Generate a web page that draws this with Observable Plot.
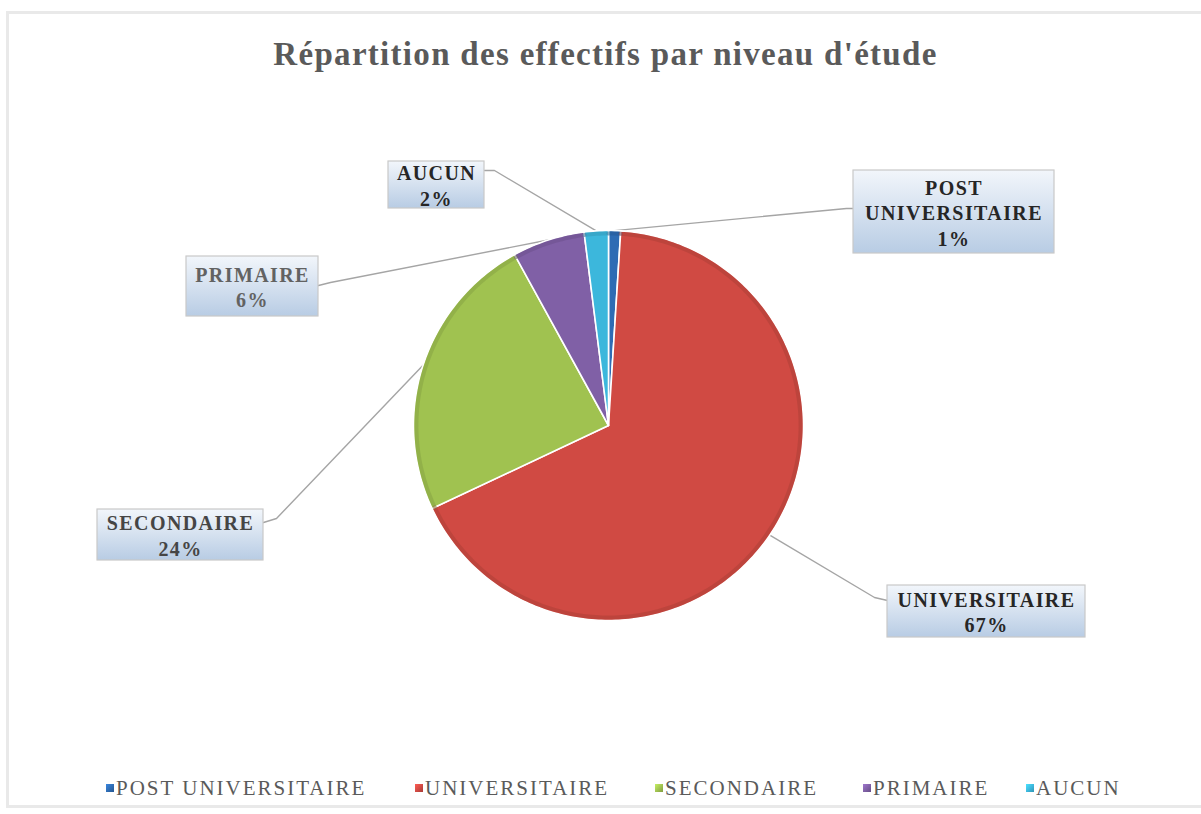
<!DOCTYPE html>
<html>
<head>
<meta charset="utf-8">
<script src="https://cdn.jsdelivr.net/npm/d3@7"></script>
<script src="https://cdn.jsdelivr.net/npm/@observablehq/plot@0.6"></script>
<style>
  html, body { margin: 0; padding: 0; background: #fff; width: 1201px; height: 814px; overflow: hidden; }
  #frame { position: absolute; left: 6px; top: 11px; width: 1210px; height: 797px; border: 3px solid #e9e9e9; box-sizing: border-box; pointer-events: none; }
  #title { height: 100px; box-sizing: border-box; padding-top: 37px; text-align: center; font-family: "Liberation Serif", serif; font-weight: bold; font-size: 33px; letter-spacing: 1.3px; line-height: 34px; color: #5a5a5a; padding-left: 10px; }
  #chart { height: 660px; }
  #legend { margin-top: 16px; height: 24px; line-height: 24px; font-family: "Liberation Serif", serif; font-size: 21px; letter-spacing: 2px; color: #5a5a5a; position: relative; }
  .item { position: absolute; top: 0; white-space: nowrap; }
  .sw { display: inline-block; width: 8px; height: 8px; margin-right: 2px; vertical-align: 3px; }
</style>
</head>
<body>
<div id="frame"></div>
<div id="title"></div>
<div id="chart"></div>
<div id="legend"></div>
<script>
// ---- data ----
const titleText = "Répartition des effectifs par niveau d'étude";
const categories = ["POST UNIVERSITAIRE", "UNIVERSITAIRE", "SECONDAIRE", "PRIMAIRE", "AUCUN"];
const values = [1, 67, 24, 6, 2];
const labelNames = ["POST\nUNIVERSITAIRE", "UNIVERSITAIRE", "SECONDAIRE", "PRIMAIRE", "AUCUN"];
const colors = ["#2e6cb4", "#d04a43", "#a0c250", "#8060a6", "#3cb7dc"];
const labelInk = ["#262626", "#262626", "#454545", "#626262", "#262626"];

// ---- layout (pixels in svg space) ----
const W = 1201, H = 660, CX = 608, CY = 325, R = 195;
const boxes = [ // x1, x2, y1, y2
  [853, 1054, 70, 153],
  [887, 1085, 485, 537],
  [97, 263, 409, 460],
  [186, 318, 156, 216],
  [388, 484, 61, 108]
];
const leaderStart = [[853, 108], [887, 500], [263, 422], [318, 185], [484, 70]];
const leaderElbow = [[846, 108], [874, 497], [276, 418], [330, 182], [494, 70]];
const legendX = [106, 415, 655, 863, 1026];

const ux = px => (px - CX) / R;
const uy = py => (CY - py) / R;

document.getElementById("title").textContent = titleText;

// pie layout
const arcs = d3.pie().sort(null).startAngle(0).endAngle(2 * Math.PI)(values);
const slicePts = [];
const rimPts = [];
arcs.forEach((a, i) => {
  const name = categories[i];
  slicePts.push({name, x: 0, y: 0});
  const n = Math.max(2, Math.ceil((a.endAngle - a.startAngle) / (Math.PI / 180)));
  for (let k = 0; k <= n; k++) {
    const t = a.startAngle + (a.endAngle - a.startAngle) * k / n;
    slicePts.push({name, x: Math.sin(t), y: Math.cos(t)});
    rimPts.push({name, x: 0.985 * Math.sin(t), y: 0.985 * Math.cos(t)});
  }
});

const leaders = [];
arcs.forEach((a, i) => {
  const name = categories[i];
  const m = (a.startAngle + a.endAngle) / 2;
  leaders.push({name, x: ux(leaderStart[i][0]), y: uy(leaderStart[i][1])});
  leaders.push({name, x: ux(leaderElbow[i][0]), y: uy(leaderElbow[i][1])});
  leaders.push({name, x: Math.sin(m), y: Math.cos(m)});
});

const labels = categories.map((name, i) => ({
  name,
  ink: labelInk[i],
  x1: ux(boxes[i][0]), x2: ux(boxes[i][1]),
  y1: uy(boxes[i][3]), y2: uy(boxes[i][2]),
  cx: ux((boxes[i][0] + boxes[i][1]) / 2),
  cy: uy((boxes[i][2] + boxes[i][3]) / 2),
  text: labelNames[i] + "\n" + values[i] + "%"
}));

const darker = colors.map(c => d3.color(c).darker(0.8).formatHex());

const textMarks = [...new Set(labelInk)].map(ink =>
  Plot.text(labels.filter(d => d.ink === ink), {x: "cx", y: "cy", text: "text", fontFamily: "Liberation Serif, serif", fontWeight: "bold", fontSize: 20, lineHeight: 1.27, fill: ink, className: "lbltext"})
);

const plot = Plot.plot({
  width: W, height: H,
  margin: 0,
  x: {domain: [-1, 1], range: [CX - R, CX + R], axis: null},
  y: {domain: [-1, 1], range: [CY + R, CY - R], axis: null},
  color: {domain: categories, range: colors},
  style: {background: "transparent"},
  marks: [
    Plot.line(leaders, {x: "x", y: "y", z: "name", stroke: "#a5a5a5", strokeWidth: 1.4, curve: "linear"}),
    Plot.line(slicePts, {x: "x", y: "y", z: "name", fill: "name", stroke: "white", strokeWidth: 1.6, curve: "linear-closed"}),
    Plot.line(rimPts, {x: "x", y: "y", z: "name", stroke: d => darker[categories.indexOf(d.name)], strokeWidth: 4, strokeOpacity: 0.35, curve: "linear"}),
    Plot.rect(labels, {x1: "x1", x2: "x2", y1: "y1", y2: "y2", fill: "url(#lblgrad)", stroke: "#c9c9c9", strokeWidth: 1.2}),
    ...textMarks
  ]
});

// gradient defs for label boxes
const svg = d3.select(plot);
const defs = svg.insert("defs", ":first-child");
const g = defs.append("linearGradient").attr("id", "lblgrad").attr("x1", 0).attr("y1", 0).attr("x2", 0).attr("y2", 1);
g.append("stop").attr("offset", "0%").attr("stop-color", "#f2f6fb");
g.append("stop").attr("offset", "100%").attr("stop-color", "#b8cce4");
svg.selectAll(".lbltext text").style("letter-spacing", "1.4px");

document.getElementById("chart").appendChild(plot);

// legend
const legend = document.getElementById("legend");
categories.forEach((name, i) => {
  const it = document.createElement("span");
  it.className = "item";
  it.style.left = legendX[i] + "px";
  const sw = document.createElement("span");
  sw.className = "sw";
  sw.style.background = `linear-gradient(135deg, ${d3.color(colors[i]).brighter(0.6)}, ${colors[i]} 55%, ${d3.color(colors[i]).darker(0.6)})`;
  it.appendChild(sw);
  it.appendChild(document.createTextNode(name));
  legend.appendChild(it);
});
</script>
</body>
</html>
